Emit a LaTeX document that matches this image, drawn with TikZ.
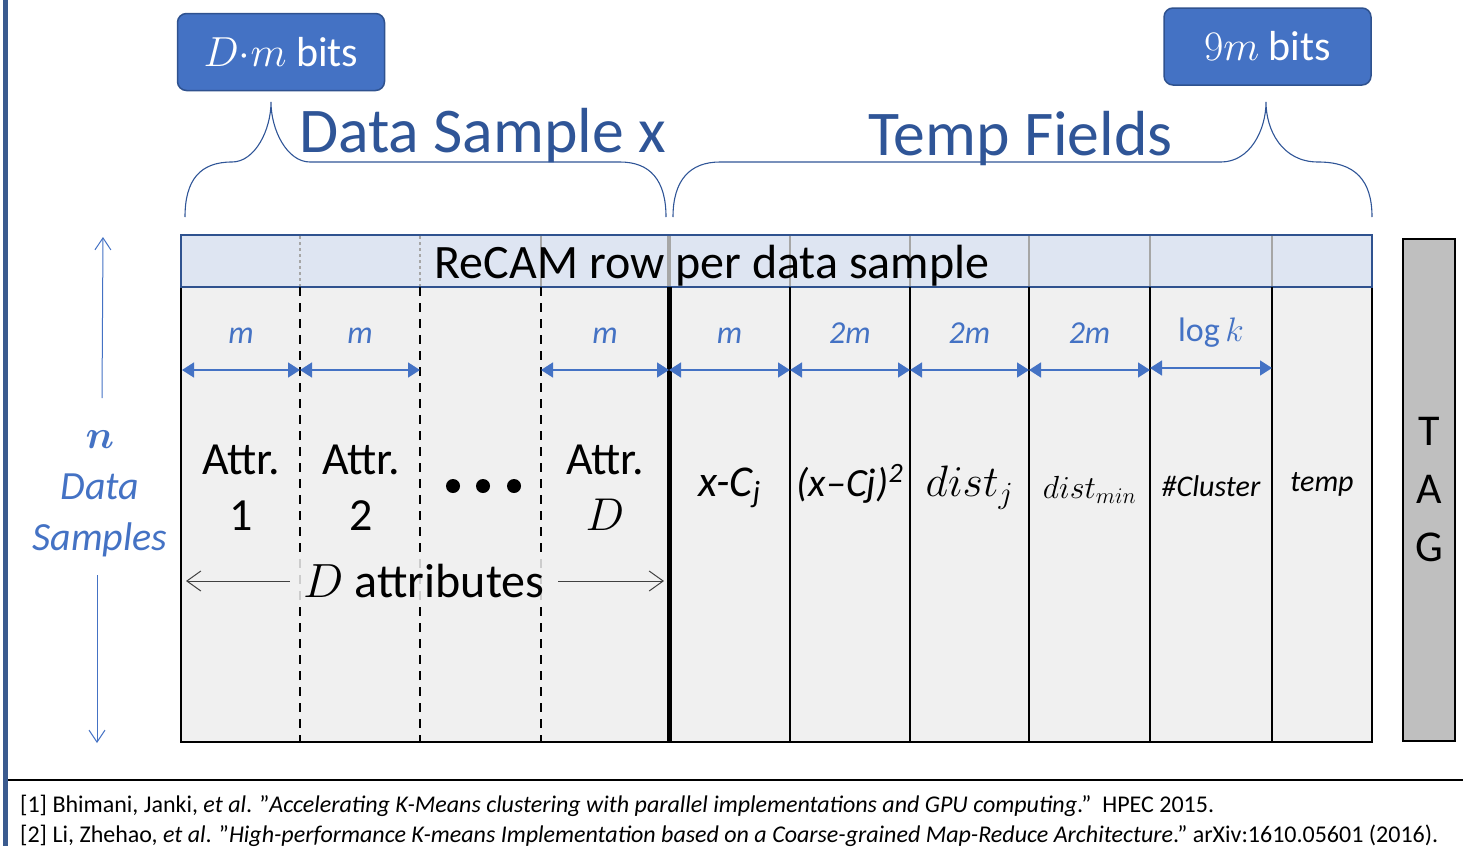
\RequirePackage{fix-cm}
\documentclass[tikz,border=0pt]{standalone}
\usepackage{fontspec}
\setmainfont{Carlito}
\usetikzlibrary{arrows.meta,positioning}
\definecolor{boxblue}{HTML}{4472C4}
\definecolor{boxedge}{HTML}{2F528F}
\definecolor{darkblue}{HTML}{2F5597}
\definecolor{barblue}{HTML}{3B5B8F}
\definecolor{headfill}{HTML}{DEE5F2}
\definecolor{cellfill}{HTML}{F0F0F0}
\definecolor{tagfill}{HTML}{BFBFBF}
\newcommand{\fsz}[2]{\fontsize{#1}{#2}\selectfont}
\newcommand{\dq}{\symbol{34}}
\tikzset{
  bitbox/.style   = {rectangle, rounded corners=9pt, draw=boxedge, line width=1.5pt,
                     fill=boxblue, text=white, minimum width=207pt,
                     minimum height=77pt, font=\fsz{42}{50}},
  brace/.style    = {draw=darkblue, line width=1.1pt},
  title/.style    = {text=darkblue, font=\fsz{63.7}{70}, inner sep=0pt, anchor=base west},
  dimarrow/.style = {draw=boxblue, line width=1.5pt,
                     {Triangle[length=12pt,width=15pt]}-{Triangle[length=12pt,width=15pt]}},
  dimlabel/.style = {text=boxblue, font=\fsz{32}{36}\itshape, anchor=base, yshift=27pt},
  sep/.style      = {line width=1.6pt},
  attrsep/.style  = {line width=1.6pt, dash pattern=on 9pt off 7pt},
  headsep/.style  = {draw=black!35, line width=1.6pt},
  celltext/.style = {font=\fsz{46}{56}, align=center},
  sidearrow/.style= {draw=boxblue, line width=1pt, -{Straight Barb[length=12pt,width=16pt]}},
  attrarrow/.style= {draw=black!75, line width=1pt, -{Straight Barb[length=14pt,width=20pt]}},
  reftext/.style  = {anchor=base west, inner sep=0pt, font=\fsz{24}{30}}
}
\begin{document}
\begin{tikzpicture}[x=1pt, y=-1pt]
\useasboundingbox (0,0) rectangle (1463,846);
\fill[barblue] (3,0) rectangle (8,846);

% bit boxes and braces
\node[bitbox] (dmbits) at (281,52) {$D{\cdot}m$ bits};
\node[bitbox] (ninembits) at (1267.5,46.5) {$9m$ bits};

\coordinate (dsL) at (185,217);
\coordinate (dsTip) at (271,102);
\coordinate (dsR) at (666,217);
\draw[brace] (dsL) .. controls (185,180) and (200,162) .. (232,162)
  .. controls (255,162) and (271,130) .. (dsTip)
  .. controls (271,130) and (287,162) .. (310,162) -- (620,162)
  .. controls (650,162) and (666,180) .. (dsR);
\coordinate (tfL) at (673,217);
\coordinate (tfTip) at (1266,102);
\coordinate (tfR) at (1372,217);
\draw[brace] (tfL) .. controls (673,180) and (690,162) .. (720,162) -- (1221,162)
  .. controls (1250,162) and (1266,130) .. (tfTip)
  .. controls (1266,130) and (1282,162) .. (1318,162)
  .. controls (1355,162) and (1372,180) .. (tfR);
\node[title] (dstitle) at (299,152) {Data Sample x};
\node[title] (tftitle) at (868,155) {Temp Fields};

% column boundaries
\foreach \x [count=\i from 0] in {182,300,420,541,669,790,910,1029,1150,1272,1372} {
  \coordinate (top\i) at (\x,287);
  \coordinate (bot\i) at (\x,742);
  \coordinate (hd\i) at (\x,236);
  \coordinate (dim\i) at (\x,370);
}

% ReCAM row
\draw[fill=cellfill, line width=2.2pt] (181,287) rectangle (1372,742);
\fill[headfill] (181,235) rectangle (1372,287);
\foreach \i in {1,2} \draw[headsep, dashed] (hd\i) -- (top\i);
\foreach \i in {3,5,6,7,8,9} \draw[headsep] (hd\i) -- (top\i);
\draw[headsep, line width=4pt] (hd4) -- (top4);
\draw[draw=boxedge, line width=2pt] (181,235) rectangle (1372,287);
\node[font=\fsz{48}{56}, anchor=base, inner sep=0pt] (rowtitle) at (712,278) {ReCAM row per data sample};

\foreach \i in {1,2,3} \draw[attrsep] (top\i) -- (bot\i);
\foreach \i in {5,...,9} \draw[sep] (top\i) -- (bot\i);
\draw[line width=5pt] (top4) -- (bot4);

% widths
\foreach \a/\b/\t in {0/1/m, 1/2/m, 3/4/m, 4/5/m, 5/6/2m, 6/7/2m, 7/8/2m}
  \draw[dimarrow] (dim\a) -- node[dimlabel] {\t} (dim\b);
\draw[dimarrow] ([yshift=2pt]dim8) -- node[dimlabel, font=\fsz{34}{38}] {$\log k$} ([yshift=2pt]dim9);

% cell contents
\node[celltext] (attr1) at (241,488) {Attr.\\1};
\node[celltext] (attr2) at (361,488) {Attr.\\2};
\foreach \x in {453,483,514} \fill (\x,486) circle (7);
\node[celltext] (attrD) at (605,488) {Attr.\\$D$};
\node[font=\fsz{44}{50}\itshape] (xc) at (729.5,488) {x-C\textsubscript{j}};
\node[font=\fsz{40}{50}\itshape] (xcsq) at (850,484) {(x–Cj)\textsuperscript{2}};
\node[font=\fsz{44}{50}] (distj) at (969.5,488) {$dist_j$};
\node[font=\fsz{32}{40}] (distmin) at (1089.5,490) {$dist_{min}$};
\node[font=\fsz{30}{36}\itshape] (cluster) at (1211,486) {\#Cluster};
\node[font=\fsz{30}{36}\itshape] (temp) at (1322,484) {temp};

\node[font=\fsz{48}{56}, fill=cellfill, fill opacity=0.85, text opacity=1, inner sep=6pt]
  (dattr) at (424,581) {$D$ attributes};
\coordinate (attrL) at (186,581);
\coordinate (attrR) at (664,581);
\draw[attrarrow] ([xshift=-8pt]dattr.west) -- (attrL);
\draw[attrarrow] ([xshift=8pt]dattr.east) -- (attrR);

% tag
\node[draw, fill=tagfill, line width=2pt, minimum width=52pt, minimum height=502pt,
  align=center, font=\fsz{44}{58}] (tag) at (1429,490) {T\\A\\G};

% n data samples
\node[text=boxblue, align=center, font=\fsz{40}{51}\itshape] (nsamples) at (100,494)
  {{\boldmath$n$}\\Data\\Samples};
\coordinate (upStart) at (102,398);
\coordinate (upEnd) at (103,237);
\coordinate (downStart) at (97,575);
\coordinate (downEnd) at (97,743);
\draw[sidearrow] (upStart) -- (upEnd);
\draw[sidearrow] (downStart) -- (downEnd);

% references
\draw[line width=2pt] (8,780) -- (1463,780);
\node[reftext] (ref1) at (20,812)
  {[1] Bhimani, Janki, \textit{et al}. \dq\textit{Accelerating K-Means clustering with parallel implementations and GPU computing}.\dq\ \ HPEC 2015.};
\node[reftext] (ref2) at (20,842)
  {[2] Li, Zhehao, \textit{et al}. \dq\textit{High-performance K-means Implementation based on a Coarse-grained Map-Reduce Architecture}.\dq\ arXiv:1610.05601 (2016).};
\end{tikzpicture}
\end{document}
